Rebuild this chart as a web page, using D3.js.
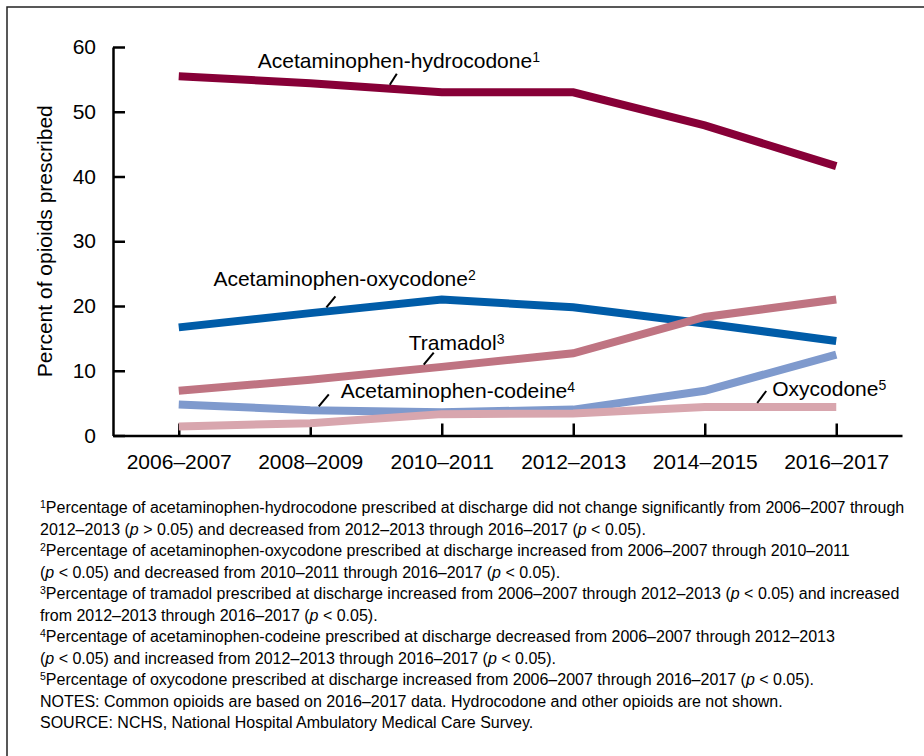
<!DOCTYPE html>
<html>
<head>
<meta charset="utf-8">
<script src="https://cdn.jsdelivr.net/npm/d3@7"></script>
<style>
  body { margin: 0; background: #fff; }
  svg { font-family: "Liberation Sans", Arial, sans-serif; }
  .axis path, .axis line { stroke: #000; stroke-width: 2.5; }
  .axis text { font-size: 21px; fill: #000; font-family: "Liberation Sans", Arial, sans-serif; }
</style>
</head>
<body>
<div id="chart"></div>
<script>
// data
var periods = ["2006–2007", "2008–2009", "2010–2011", "2012–2013", "2014–2015", "2016–2017"];
var yTicks = [0, 10, 20, 30, 40, 50, 60];

var hydrocodoneVals = [55.5, 54.4, 53.0, 53.0, 47.9, 41.6];
var acetOxyVals = [16.7, 18.9, 21.0, 19.8, 17.3, 14.6];
var tramadolVals = [6.9, 8.6, 10.6, 12.7, 18.3, 21.0];
var codeineVals = [4.8, 3.9, 3.6, 4.0, 6.9, 12.5];
var oxycodoneVals = [1.4, 1.9, 3.3, 3.4, 4.4, 4.4];

var svgWidth = 924;
var svgHeight = 756;

var margin = { top: 47, right: 22, bottom: 320, left: 113 };
var width = svgWidth - margin.left - margin.right;
var height = 435.5 - margin.top;

var svg = d3.select("#chart")
  .append("svg")
  .attr("width", svgWidth)
  .attr("height", svgHeight);

// frame (only top and left edges fall inside the picture)
svg.append("rect")
  .attr("x", 7)
  .attr("y", 7)
  .attr("width", 1000)
  .attr("height", 1000)
  .attr("fill", "none")
  .attr("stroke", "#222")
  .attr("stroke-width", 1.5);

var chartGroup = svg.append("g")
  .attr("transform", `translate(${margin.left}, ${margin.top})`);

var xScale = d3.scalePoint()
  .domain(periods)
  .range([0, width])
  .padding(0.5);

var yScale = d3.scaleLinear()
  .domain([0, 60])
  .range([height, 0]);

// axes, ticks pointing inwards
chartGroup.append("g")
  .attr("class", "axis")
  .call(d3.axisLeft(yScale).tickValues(yTicks).tickSizeInner(-12).tickSizeOuter(0).tickPadding(17));

chartGroup.append("g")
  .attr("class", "axis")
  .attr("transform", `translate(0,${height})`)
  .call(d3.axisBottom(xScale).tickSizeInner(-12).tickSizeOuter(0).tickPadding(19));

chartGroup.append("text")
  .attr("transform", "rotate(-90)")
  .attr("x", -height / 2)
  .attr("y", -61)
  .attr("text-anchor", "middle")
  .attr("font-size", 21)
  .text("Percent of opioids prescribed");

// series: label offsets are relative to the leader line
var series = [
  { name: "Acetaminophen-hydrocodone", sup: "1", values: hydrocodoneVals, color: "#870037",
    at: 1.605, lead: [7, -11], txt: [-139, -6] },
  { name: "Acetaminophen-oxycodone", sup: "2", values: acetOxyVals, color: "#005ca8",
    at: 1.123, lead: [9, -11], txt: [-122, -10] },
  { name: "Acetaminophen-codeine", sup: "4", values: codeineVals, color: "#7f9acd",
    at: 1.065, lead: [10, -12], txt: [12, 3.5] },
  { name: "Tramadol", sup: "3", values: tramadolVals, color: "#bf7482",
    at: 1.863, lead: [10, -12], txt: [-25, -2.5] },
  { name: "Oxycodone", sup: "5", values: oxycodoneVals, color: "#d8a6ae",
    at: 4.399, lead: [9, -12], txt: [6, 5] }
];

var line = d3.line()
  .x((d, i) => xScale(periods[i]))
  .y(d => yScale(d));

chartGroup.selectAll(".series")
  .data(series)
  .enter()
  .append("path")
  .attr("class", "series")
  .attr("d", d => line(d.values))
  .attr("fill", "none")
  .attr("stroke", d => d.color)
  .attr("stroke-width", 8)
  .attr("stroke-linejoin", "miter");

// position along a series at a fractional category index
function pointAt(s) {
  var i0 = Math.floor(s.at);
  var t = s.at - i0;
  var x = xScale(periods[i0]) + t * xScale.step();
  var v = s.values[i0] + t * (s.values[i0 + 1] - s.values[i0]);
  return [x, yScale(v) - 4];
}

series.forEach(function(s) {
  var p = pointAt(s);
  var top = [p[0] + s.lead[0], p[1] + s.lead[1]];
  chartGroup.append("line")
    .attr("x1", p[0]).attr("y1", p[1])
    .attr("x2", top[0]).attr("y2", top[1])
    .attr("stroke", "#000")
    .attr("stroke-width", 2);

  var label = chartGroup.append("text")
    .attr("x", top[0] + s.txt[0])
    .attr("y", top[1] + s.txt[1])
    .attr("font-size", 21);
  label.append("tspan").text(s.name);
  label.append("tspan")
    .attr("font-size", 14)
    .attr("dy", -6)
    .text(s.sup);
});

// footnotes: [text, style] pieces per line
var footnotes = [
  [["1", "sup"], ["Percentage of acetaminophen-hydrocodone prescribed at discharge did not change significantly from 2006–2007 through"]],
  [["2012–2013 ("], ["p", "i"], [" > 0.05) and decreased from 2012–2013 through 2016–2017 ("], ["p", "i"], [" < 0.05)."]],
  [["2", "sup"], ["Percentage of acetaminophen-oxycodone prescribed at discharge increased from 2006–2007 through 2010–2011"]],
  [["("], ["p", "i"], [" < 0.05) and decreased from 2010–2011 through 2016–2017 ("], ["p", "i"], [" < 0.05)."]],
  [["3", "sup"], ["Percentage of tramadol prescribed at discharge increased from 2006–2007 through 2012–2013 ("], ["p", "i"], [" < 0.05) and increased"]],
  [["from 2012–2013 through 2016–2017 ("], ["p", "i"], [" < 0.05)."]],
  [["4", "sup"], ["Percentage of acetaminophen-codeine prescribed at discharge decreased from 2006–2007 through 2012–2013"]],
  [["("], ["p", "i"], [" < 0.05) and increased from 2012–2013 through 2016–2017 ("], ["p", "i"], [" < 0.05)."]],
  [["5", "sup"], ["Percentage of oxycodone prescribed at discharge increased from 2006–2007 through 2016–2017 ("], ["p", "i"], [" < 0.05)."]],
  [["NOTES: Common opioids are based on 2016–2017 data. Hydrocodone and other opioids are not shown."]],
  [["SOURCE: NCHS, National Hospital Ambulatory Medical Care Survey."]]
];

var notesGroup = svg.append("g")
  .attr("transform", "translate(40, 513)");

footnotes.forEach(function(pieces, row) {
  var t = notesGroup.append("text")
    .attr("x", 0)
    .attr("y", row * 21.5)
    .attr("font-size", 16);
  pieces.forEach(function(p, k) {
    var span = t.append("tspan").text(p[0]);
    if (p[1] === "sup") {
      span.attr("font-size", 10.5).attr("dy", -5.5);
    } else if (k > 0 && pieces[k - 1][1] === "sup") {
      span.attr("dy", 5.5);
    }
    if (p[1] === "i") span.attr("font-style", "italic");
  });
});
</script>
</body>
</html>
